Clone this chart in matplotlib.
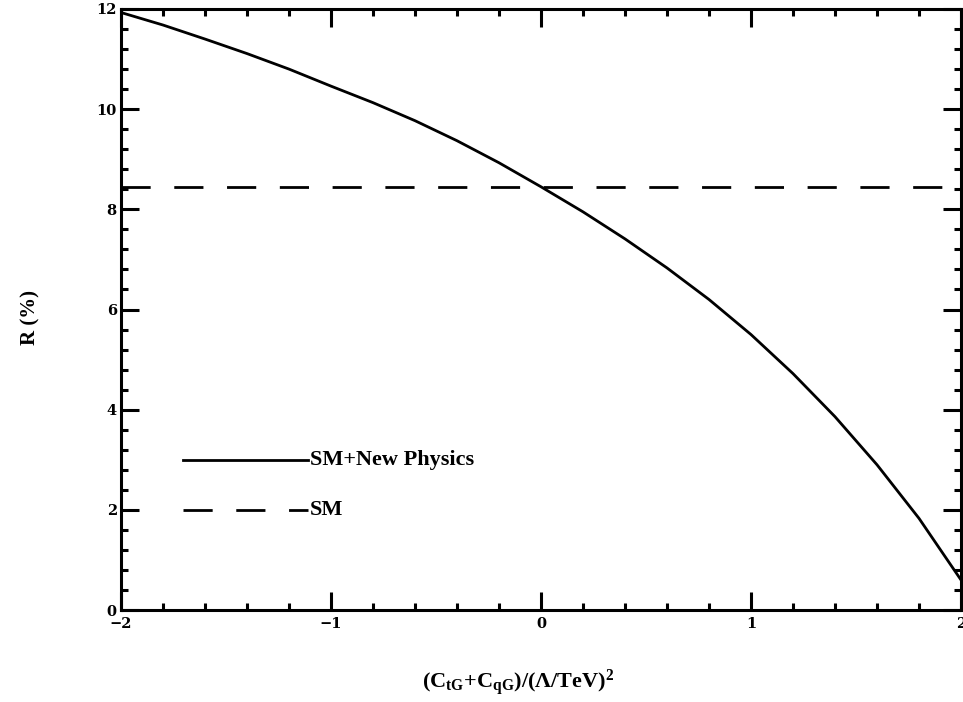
import matplotlib
matplotlib.use("Agg")
import matplotlib.pyplot as plt
from matplotlib.ticker import MultipleLocator

# curve
x_vals = [-2.0, -1.8, -1.6, -1.4, -1.2, -1.0, -0.8, -0.6, -0.4, -0.2, 0.0,
          0.2, 0.4, 0.6, 0.8, 1.0, 1.2, 1.4, 1.6, 1.8, 2.0]
r_new_physics = [11.93, 11.68, 11.40, 11.11, 10.80, 10.46, 10.13, 9.77, 9.37,
                 8.93, 8.45, 7.95, 7.41, 6.83, 6.20, 5.50, 4.72, 3.86, 2.90,
                 1.83, 0.60]
r_sm = 8.45

labels = ["SM+New Physics", "SM"]

plt.rcParams["mathtext.fontset"] = "custom"
plt.rcParams["mathtext.rm"] = "Liberation Serif:bold"
plt.rcParams["mathtext.it"] = "Liberation Serif:bold"
plt.rcParams["mathtext.bf"] = "Liberation Serif:bold"

fig = plt.figure(figsize=(9.63, 7.02), dpi=100)
ax = fig.add_axes([121 / 963, 1 - 610 / 702, 840 / 963, 601 / 702])

lw = 2.0
dash = (0, (10.5, 8.5))
ax.plot(x_vals, r_new_physics, color="black", lw=lw)
ax.axhline(r_sm, color="black", lw=lw, linestyle=dash)

# legend drawn by hand like the original
ax.plot([-1.705, -1.11], [3.0, 3.0], color="black", lw=lw)
ax.plot([-1.705, -1.11], [2.0, 2.0], color="black", lw=lw, linestyle=dash)
lfont = dict(family="Liberation Serif", weight="bold", fontsize=16,
             va="center")
ax.text(-1.10, 3.0, labels[0], **lfont)
ax.text(-1.10, 2.0, labels[1], **lfont)

ax.set_xlim(-2, 2)
ax.set_ylim(0, 12)
ax.xaxis.set_major_locator(MultipleLocator(1))
ax.xaxis.set_minor_locator(MultipleLocator(0.2))
ax.yaxis.set_major_locator(MultipleLocator(2))
ax.yaxis.set_minor_locator(MultipleLocator(0.4))
ax.tick_params(which="both", direction="in", top=True, right=True, width=2.2)
ax.tick_params(which="major", length=13)
ax.tick_params(axis="x", which="major", pad=5)
ax.tick_params(axis="y", which="major", pad=3)
ax.tick_params(which="minor", length=5)
for sp in ax.spines.values():
    sp.set_linewidth(2.2)
for lab in ax.get_xticklabels() + ax.get_yticklabels():
    lab.set_family("DejaVu Serif")
    lab.set_fontweight("bold")
    lab.set_fontsize(10.5)

fig.text(30 / 963, 1 - 318 / 702, "R (%)", rotation=90, ha="center",
         va="center", family="Liberation Serif", weight="bold", fontsize=15)
fig.text(518 / 963, 1 - 683 / 702,
         r"$\mathrm{(C_{tG}{+}C_{qG})/(\Lambda/TeV)^2}$",
         ha="center", va="center", fontsize=16)

fig.savefig("out.png", dpi=100)
